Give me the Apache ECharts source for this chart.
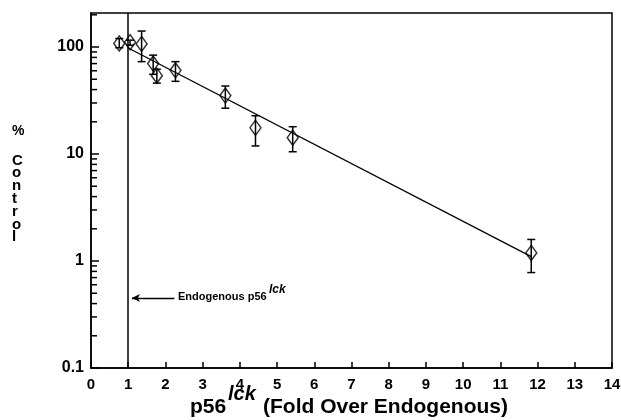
<!DOCTYPE html>
<html>
<head>
<meta charset="utf-8">
<script src="https://cdn.jsdelivr.net/npm/echarts@6/dist/echarts.min.js"></script>
<style>html,body{margin:0;padding:0;background:#fff}#c{width:621px;height:420px}</style>
</head>
<body>
<div id="c"></div>
<script>
// Data
var foldX = [0.76, 1.05, 1.36, 1.67, 1.77, 2.27, 3.61, 4.42, 5.42, 11.83];
var pctControl = [108, 111, 107, 70, 54, 60.6, 35.2, 17.6, 14.2, 1.19];
var errHigh = [120, 116, 141, 84, 62, 73, 43.2, 22.8, 18.0, 1.59];
var errLow = [98.5, 104, 73, 55.6, 46, 47.8, 26.8, 11.9, 10.5, 0.78];
var fitLine = [[1, 98], [11.83, 1.10]];
var endogenousX = 1;
var arrowFrom = [2.24, 0.45];
var arrowTo = [1.1, 0.45];
var yTickLabels = [0.1, 1, 10, 100];
var yMinorTicks = [0.2, 0.3, 0.4, 0.5, 0.6, 0.7, 0.8, 0.9,
                   2, 3, 4, 5, 6, 7, 8, 9,
                   20, 30, 40, 50, 60, 70, 80, 90, 200];

var FONT = '"Liberation Sans", Arial, sans-serif';
var points = foldX.map(function (x, i) { return [x, pctControl[i]]; });
var bars = foldX.map(function (x, i) { return [x, errLow[i], errHigh[i]]; });
var minorData = yMinorTicks.map(function (v) { return [0.5, v]; });

var chart = echarts.init(document.getElementById('c'), null, { renderer: 'canvas' });
chart.setOption({
  animation: false,
  backgroundColor: '#fff',
  grid: { left: 91, right: 9, top: 13, bottom: 52, show: true, borderColor: '#000', borderWidth: 1.5, outerBoundsMode: 'none' },
  xAxis: {
    type: 'value', min: 0, max: 14, interval: 1,
    axisLine: { show: true, lineStyle: { color: '#000', width: 1.5 } },
    axisTick: { show: true, inside: true, length: 6, lineStyle: { color: '#000', width: 1.5 } },
    axisLabel: { color: '#000', fontFamily: FONT, fontWeight: 'bold', fontSize: 15, margin: 9 },
    splitLine: { show: false }
  },
  yAxis: {
    type: 'log', logBase: 10, min: 0.1, max: 208,
    axisLine: { show: true, lineStyle: { color: '#000', width: 1.5 } },
    axisTick: { show: true, inside: true, length: 8, lineStyle: { color: '#000', width: 1.5 } },
    axisLabel: {
      color: '#000', fontFamily: FONT, fontWeight: 'bold', fontSize: 16, margin: 7,
      showMaxLabel: false,
      formatter: function (v) {
        for (var i = 0; i < yTickLabels.length; i++) {
          if (Math.abs(v - yTickLabels[i]) / yTickLabels[i] < 1e-6) return String(yTickLabels[i]);
        }
        return '';
      }
    },
    splitLine: { show: false }
  },
  series: [
    {
      type: 'custom', name: 'minorTicks', silent: true, clip: false,
      encode: { x: 0, y: 1 },
      data: minorData,
      renderItem: function (params, api) {
        var p = api.coord([api.value(0), api.value(1)]);
        var x0 = params.coordSys.x;
        return { type: 'line', shape: { x1: x0, y1: p[1], x2: x0 + 6, y2: p[1] }, style: { stroke: '#000', lineWidth: 1.5, fill: null } };
      },
      z: 5
    },
    {
      type: 'line', name: 'fit', data: fitLine, showSymbol: false, symbol: 'none',
      lineStyle: { color: '#000', width: 1.3 },
      markLine: {
        silent: true, symbol: ['none', 'none'],
        lineStyle: { color: '#000', width: 1.5, type: 'solid' },
        label: { show: false },
        data: [{ xAxis: endogenousX }]
      },
      z: 3
    },
    {
      type: 'line', name: 'arrow', data: [], showSymbol: false,
      markLine: {
        silent: true, symbol: ['none', 'arrow'], symbolSize: [6, 8],
        lineStyle: { color: '#000', width: 1.3, type: 'solid' },
        label: { show: false },
        data: [[{ coord: arrowFrom }, { coord: arrowTo }]]
      }
    },
    {
      type: 'custom', name: 'errors', data: bars, z: 4,
      encode: { x: 0, y: [1, 2] },
      renderItem: function (params, api) {
        var x = api.value(0);
        var lo = api.coord([x, api.value(1)]);
        var hi = api.coord([x, api.value(2)]);
        var w = 4;
        var st = { stroke: '#000', lineWidth: 1.5 };
        return {
          type: 'group', children: [
            { type: 'line', shape: { x1: lo[0], y1: lo[1], x2: hi[0], y2: hi[1] }, style: st },
            { type: 'line', shape: { x1: lo[0] - w, y1: lo[1], x2: lo[0] + w, y2: lo[1] }, style: st },
            { type: 'line', shape: { x1: hi[0] - w, y1: hi[1], x2: hi[0] + w, y2: hi[1] }, style: st }
          ]
        };
      }
    },
    {
      type: 'scatter', name: 'data', data: points, symbol: 'diamond', symbolSize: [11, 15],
      itemStyle: { color: 'rgba(255,255,255,0)', borderColor: '#000', borderWidth: 1.5 }, z: 6
    }
  ],
  graphic: [
    { type: 'text', left: 12, top: 124, style: { text: '%', font: 'bold 14px ' + FONT, fill: '#000' } },
    { type: 'text', left: 12, top: 153, style: { text: 'C\no\nn\nt\nr\no\nl', font: 'bold 15px ' + FONT, lineHeight: 12.8, fill: '#000', align: 'left' } },
    { type: 'text', left: 178, top: 291, style: { text: 'Endogenous p56', font: 'bold 11px ' + FONT, fill: '#000' } },
    { type: 'text', left: 269, top: 284, style: { text: 'lck', font: 'italic bold 12px ' + FONT, fill: '#000' } },
    { type: 'text', left: 190, top: 397, style: { text: 'p56', font: 'bold 21px ' + FONT, fill: '#000' } },
    { type: 'text', left: 228, top: 384, style: { text: 'lck', font: 'italic bold 20px ' + FONT, fill: '#000' } },
    { type: 'text', left: 263, top: 397, style: { text: '(Fold Over Endogenous)', font: 'bold 21px ' + FONT, fill: '#000' } }
  ]
});
</script>
</body>
</html>
